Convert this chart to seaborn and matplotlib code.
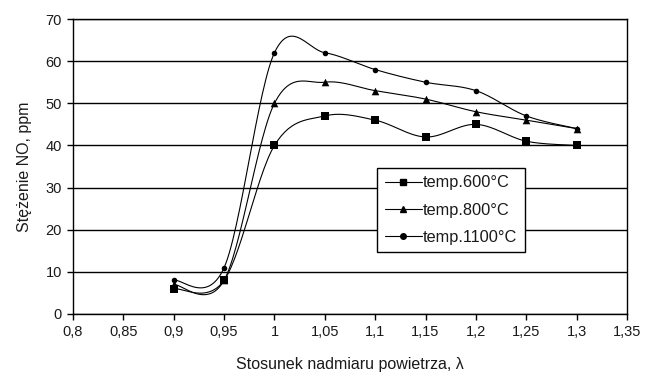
import numpy as np
import pandas as pd
import matplotlib
matplotlib.use("Agg")
import matplotlib.pyplot as plt
from matplotlib.lines import Line2D
import seaborn as sns

# Dane
lam = [0.90, 0.95, 1.00, 1.05, 1.10, 1.15, 1.20, 1.25, 1.30]
no_600 = [6, 8, 40, 47, 46, 42, 45, 41, 40]
no_800 = [7, 8, 50, 55, 53, 51, 48, 46, 44]
no_1100 = [8, 11, 62, 62, 58, 55, 53, 47, 44]
serie = ["temp.600°C", "temp.800°C", "temp.1100°C"]
markery = ["s", "^", "o"]
rozmiary = [30, 30, 16]

x_ticks = [0.8, 0.85, 0.9, 0.95, 1.0, 1.05, 1.1, 1.15, 1.2, 1.25, 1.3, 1.35]
y_ticks = [0, 10, 20, 30, 40, 50, 60, 70]


def wygladz(x, y, n=30):
    # krzywa Catmull-Rom jak "wygładzona linia" w Excelu
    p = np.column_stack([x, y]).astype(float)
    pts = np.vstack([p[0], p, p[-1]])
    out = []
    t = np.linspace(0, 1, n)[:, None]
    for i in range(1, len(pts) - 2):
        p0, p1, p2, p3 = pts[i - 1], pts[i], pts[i + 1], pts[i + 2]
        c1 = p1 + (p2 - p0) / 6
        c2 = p2 - (p3 - p1) / 6
        seg = ((1 - t) ** 3) * p1 + 3 * ((1 - t) ** 2) * t * c1 + 3 * (1 - t) * t ** 2 * c2 + t ** 3 * p2
        out.append(seg)
    s = np.vstack(out)
    return s[:, 0], s[:, 1]


df = pd.DataFrame({"lambda": lam * 3,
                   "NO": no_600 + no_800 + no_1100,
                   "seria": [s for s in serie for _ in lam]})

sns.set_style("white")
plt.rcParams['font.family'] = ['Liberation Sans', 'DejaVu Sans']
tekst = "#1a1a1a"

fig = plt.figure(figsize=(6.45, 3.81), dpi=100)
ax = fig.add_axes([0.1132, 0.1759, 0.8589, 0.7742])

for nazwa, m, r in zip(serie, markery, rozmiary):
    d = df[df["seria"] == nazwa]
    xs, ys = wygladz(d["lambda"].values, d["NO"].values)
    ax.plot(xs, ys, color="black", lw=0.8, zorder=3)
    sns.scatterplot(data=d, x="lambda", y="NO", marker=m, s=r, color="black",
                    edgecolor="black", linewidth=0, ax=ax, zorder=4, legend=False)

ax.set_xlim(0.8, 1.35)
ax.set_ylim(0, 70)
ax.set_xticks(x_ticks)
ax.set_xticklabels([f"{v:g}".replace(".", ",") for v in x_ticks])
ax.set_yticks(y_ticks)
ax.yaxis.grid(True, color="black", lw=1.0)
ax.set_axisbelow(True)
for s in ax.spines.values():
    s.set_color("black")
    s.set_linewidth(1.0)
ax.tick_params(axis="both", direction="out", length=4, width=1.0, color="black",
               labelsize=10.5, labelcolor=tekst, pad=4, bottom=True, left=True)

ax.set_xlabel("Stosunek nadmiaru powietrza, λ", fontsize=11.5, color=tekst, labelpad=13)
ax.set_ylabel("Stężenie NO, ppm", fontsize=11.5, color=tekst, labelpad=10)

uchwyty = [Line2D([0], [0], color="black", lw=0.8, marker=m, markersize=ms)
           for m, ms in zip(markery, [5, 5, 4])]
leg = ax.legend(uchwyty, serie, loc="upper left", bbox_to_anchor=(0.549, 0.495),
                frameon=True, fancybox=False, framealpha=1, edgecolor="black",
                fontsize=11.8, handlelength=2.3, handletextpad=0.05,
                borderpad=0.45, labelspacing=0.75, borderaxespad=0)
leg.get_frame().set_linewidth(1.0)
for t in leg.get_texts():
    t.set_color(tekst)

plt.savefig("out.png", dpi=100)
